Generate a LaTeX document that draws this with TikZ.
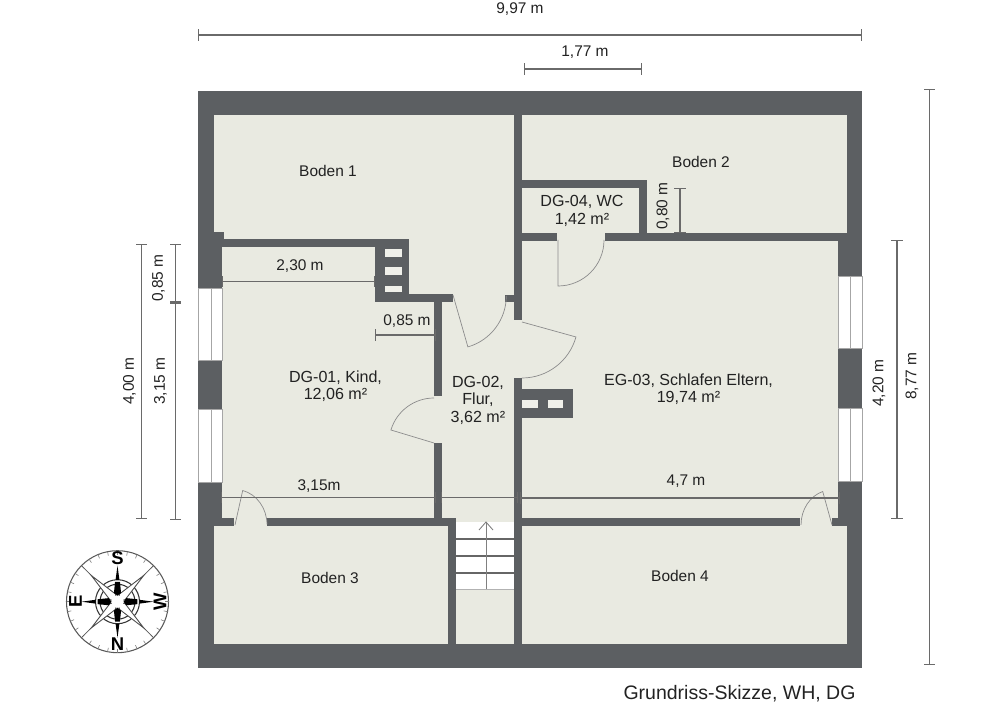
\documentclass[tikz,border=0pt]{standalone}
\usepackage{fontspec}
\setmainfont{Liberation Sans}
\usetikzlibrary{calc}
\definecolor{wallgrey}{HTML}{5C5F62}
\definecolor{floorgrey}{HTML}{E9EAE1}
\definecolor{dimgrey}{HTML}{6A6A6A}
\definecolor{textgrey}{HTML}{222222}
\tikzset{
    wall/.style={fill=wallgrey},
    flue/.style={fill=floorgrey!70!white},
    swing/.style={draw=black!45, line width=0.4pt},
    pane/.style={draw=black!35, line width=0.5pt, fill=white},
    dimline/.style={draw=dimgrey, line width=0.6pt, |-|},
    lbl/.style={draw=none, color=textgrey, align=center, font=\fontsize{8.8}{10}\selectfont, inner sep=0pt},
    roomlbl/.style={lbl, font=\fontsize{9.15}{10}\selectfont},
    compassletter/.style={draw=none, color=black, inner sep=0pt, font=\fontsize{10.5}{12}\selectfont\bfseries},
}
\begin{document}
\begin{tikzpicture}[x=0.2mm, y=-0.2mm]
        \useasboundingbox (0,0) rectangle (1000,707);
        % coordinates of the dimension lines
        \coordinate (top1) at (198,35);
        \coordinate (top2) at (862,35);
        \coordinate (wc1) at (524,69);
        \coordinate (wc2) at (642,69);
        \coordinate (far1) at (929.5,89);
        \coordinate (far2) at (929.5,665);
        \coordinate (near1) at (897,240);
        \coordinate (near2) at (897,519);
        \coordinate (left1) at (141.5,244);
        \coordinate (left2) at (141.5,519);
        \coordinate (sub1) at (175.5,244);
        \coordinate (sub2) at (175.5,302.5);
        \coordinate (sub3) at (175.5,520);
        \coordinate (nook1) at (222,281.5);
        \coordinate (nook2) at (375,281.5);
        \coordinate (kid1) at (375,335);
        \coordinate (kid2) at (436,335);
        \coordinate (low1) at (221,497.5);
        \coordinate (low2) at (436,497.5);
        \coordinate (low3) at (441,497.5);
        \coordinate (low4) at (518,497.5);
        \coordinate (bed1) at (520,498);
        \coordinate (bed2) at (840,498);
        \coordinate (roof1) at (680,188);
        \coordinate (roof2) at (680,233);

        % shell and floor
        \fill[wall] (198,91) rectangle (862,667.5);
        \fill[floorgrey] (214,115) rectangle (847,644);

        % left side
        \fill[wall] (214,232) rectangle (224,247);
        \fill[wall] (214,247) rectangle (222,288);
        \fill[wall] (198,360) rectangle (222,409);
        \fill[wall] (214,482) rectangle (222,526);
        \fill[wall] (222,518) rectangle (234,526);
        % kids room
        \fill[wall] (224,239) rectangle (375,247);
        \fill[wall] (375,239) rectangle (409,302);
        \fill[wall] (409,294) rectangle (453,302);
        \fill[wall] (434,294) rectangle (442,396);
        \fill[wall] (434,443) rectangle (442,518);
        \fill[wall] (267,518) rectangle (456,526);
        \fill[wall] (448,518) rectangle (456,644);
        % spine
        \fill[wall] (514,115) rectangle (522,320);
        \fill[wall] (514,378) rectangle (522,644);
        \fill[wall] (505,295) rectangle (514,302);
        % wc
        \fill[wall] (522,180) rectangle (647,188);
        \fill[wall] (639,180) rectangle (647,241);
        \fill[wall] (522,233) rectangle (557,241);
        \fill[wall] (605,233) rectangle (847,241);
        % right side
        \fill[wall] (838,233) rectangle (847,526);
        \fill[wall] (522,518) rectangle (800,526);
        \fill[wall] (832,518) rectangle (847,526);
        % chimney of the bedroom
        \fill[wall] (522,389) rectangle (573,418);

        % flues
        \fill[flue] (385,249) rectangle (402,257);
        \fill[flue] (385,267) rectangle (402,275);
        \fill[flue] (385,285.5) rectangle (402,292);
        \fill[flue] (522,400) rectangle (538,408);
        \fill[flue] (548,400) rectangle (563,408);

        % windows
        \draw[pane] (198,288) rectangle (222,360);
        \draw[pane] (198,409) rectangle (222,482);
        \draw[pane] (838,276.5) rectangle (862,348);
        \draw[pane] (838,408) rectangle (862,481);
        \draw[pane] (211,288) -- (211,360);
        \draw[pane] (211,409) -- (211,482);
        \draw[pane] (850.5,276.5) -- (850.5,348);
        \draw[pane] (850.5,408) -- (850.5,481);

        % stairs
        \fill[white] (456,522) rectangle (514,589);
        \draw[black!60, line width=0.6pt] (456,539) -- (514,539);
        \draw[black!60, line width=0.6pt] (456,556) -- (514,556);
        \draw[black!60, line width=0.6pt] (456,573) -- (514,573);
        \draw[black!30, line width=0.5pt] (456,589) -- (514,589);
        \draw[black!50, line width=0.5pt] (486,589) -- (486,522);
        \draw[black!50, line width=0.5pt] (479,530) -- (486,522) -- (493,530);

        % doors
        \draw[swing] (558,240) -- ++(90:46) arc[start angle=90, end angle=0, radius=46];
        \draw[swing] (453,295) -- ++(74:54) arc[start angle=74, end angle=0, radius=53];
        \draw[swing] (522,322) -- ++(15.5:56) arc[start angle=15.5, end angle=90, radius=56];
        \draw[swing] (434,443) -- ++(196.8:45) arc[start angle=196.8, end angle=270, radius=45];
        \draw[swing] (235,525) -- (242.7,490.5) arc[x radius=32, y radius=35, start angle=-76, end angle=0];
        \draw[swing] (832,525) -- (822.7,491.5) arc[x radius=31, y radius=35, start angle=252.5, end angle=180];

        % dimension lines
        \draw[dimline] (top1) -- (top2);
        \draw[dimline] (wc1) -- (wc2);
        \draw[dimline] (far1) -- (far2);
        \draw[dimline] (near1) -- (near2);
        \draw[dimline] (left1) -- (left2);
        \draw[dimline] (sub1) -- (sub2);
        \draw[dimline] (sub2) -- (sub3);
        \draw[dimline] (nook1) -- (nook2);
        \draw[dimline] (kid1) -- (kid2);
        \draw[dimline] (low1) -- (low2);
        \draw[dimline] (low3) -- (low4);
        \draw[dimline] (bed1) -- (bed2);
        \draw[dimline] (roof1) -- (roof2);

        % Text of the rooms
        \node[lbl] (boden1) at (328,171) {Boden 1};
        \node[lbl] (boden2) at (701,162) {Boden 2};
        \node[lbl] (boden3) at (330,578) {Boden 3};
        \node[lbl] (boden4) at (680,576) {Boden 4};
        \node[roomlbl] (wc) at (582,211) {DG-04, WC\\1,42 m²};
        \node[roomlbl] (kind) at (335.5,386) {DG-01, Kind,\\12,06 m²};
        \node[roomlbl] (flur) at (478,400) {DG-02,\\Flur,\\3,62 m²};
        \node[roomlbl] (eltern) at (688.5,389) {EG-03, Schlafen Eltern,\\19,74 m²};

        % Text of the dimensions
        \node[lbl] (w997) at (520,9) {9,97 m};
        \node[lbl] (w177) at (585,52) {1,77 m};
        \node[lbl, rotate=90] (h877) at (912,376) {8,77 m};
        \node[lbl, rotate=90] (h420) at (879,383) {4,20 m};
        \node[lbl, rotate=90] (h400) at (129.5,381) {4,00 m};
        \node[lbl, rotate=90] (h085) at (158.5,278) {0,85 m};
        \node[lbl, rotate=90] (h315) at (160.5,381) {3,15 m};
        \node[lbl, rotate=90] (h080) at (663,206) {0,80 m};
        \node[lbl] (w230) at (300,266.5) {2,30 m};
        \node[lbl] (w085) at (407,321) {0,85 m};
        \node[lbl] (w315) at (319,486) {3,15m};
        \node[lbl] (w47) at (686,481) {4,7 m};
        \node[lbl, font=\fontsize{11.1}{13}\selectfont] (title) at (739.5,694) {Grundriss-Skizze, WH, DG};

        % compass
        \begin{scope}[shift={(117.5,601.7)}]
            \draw[black!65, line width=0.6pt] (0,0) circle (51);
            \foreach \a in {0,11.25,...,349}
                \draw[black!50, line width=0.35pt] (\a:51) -- (\a:47);
            \foreach \a in {45,135,225,315}
                \draw[black!65, line width=0.4pt] (\a:36) -- (\a:51);
            \draw[black!80, line width=0.6pt] (0,0) circle (22);
            \draw[black!80, line width=0.6pt] (0,0) circle (17.5);
            % diagonal star
            \foreach \a in {45,135,225,315}
                \filldraw[fill=white, draw=black!70, line width=0.5pt] (\a:37) -- (\a+30:8) -- (0,0) -- (\a-30:8) -- cycle;
            \fill[white] (0,0) circle (6);
            % cardinal spikes and arms
            \foreach \a in {0,90,180,270} {
                \fill[black] (\a:36) -- (\a+5:22) -- (\a-5:22) -- cycle;
                \fill[black] (\a+7:20) -- (\a+22:9.5) -- (\a:6) -- (\a-22:9.5) -- (\a-7:20) -- cycle;
            }
        \end{scope}
        \node[compassletter] (south) at (117.5,558) {S};
        \node[compassletter] (north) at (117.5,644.5) {N};
        \node[compassletter, rotate=90] (east) at (75.5,601.5) {E};
        \node[compassletter, rotate=90] (west) at (160,601.5) {W};
\end{tikzpicture}
\end{document}
